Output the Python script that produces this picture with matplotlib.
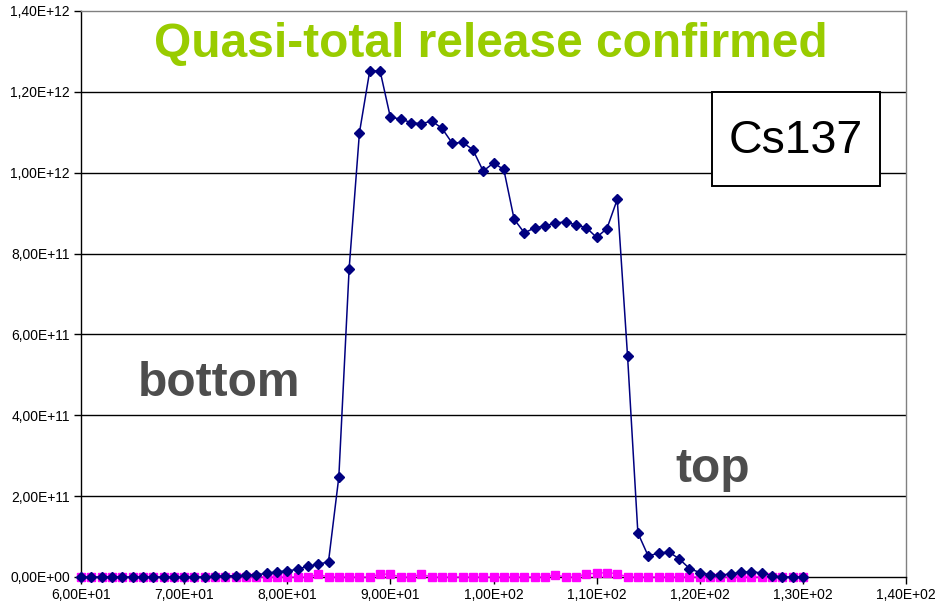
import matplotlib.pyplot as plt
from matplotlib.patches import Rectangle
from matplotlib.ticker import FuncFormatter

# ---------------- Data ----------------
x_vals = list(range(60, 131))

cs137_blue = [
    0, 0, 0, 0, 0, 0, 0, 0, 0, 0,                       # 60-69
    0, 0, 0, 1.5e9, 3e9, 3e9, 5e9, 5.5e9, 9e9, 1.3e10,  # 70-79
    1.5e10, 1.9e10, 2.7e10, 3.1e10, 3.8e10,             # 80-84
    2.47e11, 7.62e11, 1.099e12, 1.252e12, 1.252e12,     # 85-89
    1.137e12, 1.133e12, 1.124e12, 1.121e12, 1.128e12,   # 90-94
    1.110e12, 1.073e12, 1.075e12, 1.057e12, 1.004e12,   # 95-99
    1.024e12, 1.008e12, 8.85e11, 8.51e11, 8.64e11,      # 100-104
    8.68e11, 8.76e11, 8.78e11, 8.71e11, 8.64e11,        # 105-109
    8.40e11, 8.62e11, 9.34e11, 5.46e11, 1.09e11,        # 110-114
    5.2e10, 5.9e10, 6.2e10, 4.5e10, 2.1e10,             # 115-119
    1.1e10, 5e9, 4e9, 8e9, 1.15e10,                     # 120-124
    1.3e10, 1.0e10, 3e9, 0, 0, 0,                       # 125-130
]

cs137_pink = [
    0, 0, 0, 0, 0, 0, 0, 0, 0, 0,                       # 60-69
    0, 0, 0, 0, 0, 0, 0, 0, 0, 0,                       # 70-79
    0, 0, 0, 6.5e9, 0, 0, 0, 0, 0, 7e9,                 # 80-89
    7e9, 0, 0, 7e9, 0, 0, 0, 0, 0, 0,                   # 90-99
    0, 0, 0, 0, 0, 0, 5e9, 0, 0, 8e9,                   # 100-109
    9e9, 1.1e10, 8e9, 0, 0, 0, 0, 0, 0, 0,              # 110-119
    0, 0, 0, 0, 0, 0, 0, 0, 0, 0, 0,                    # 120-130
]

x_ticks = [60, 70, 80, 90, 100, 110, 120, 130, 140]
y_ticks = [0, 2e11, 4e11, 6e11, 8e11, 1e12, 1.2e12, 1.4e12]


def excel_sci(v, pos=None):
    s = "%.2E" % v
    return s.replace(".", ",")


# ---------------- Plotting ----------------
plt.rcParams['font.family'] = ['Liberation Sans', 'DejaVu Sans']

W, H = 936, 610
fig = plt.figure(figsize=(W / 100, H / 100), dpi=100)
ax = fig.add_axes([81 / W, 1 - 577 / H, (906 - 81) / W, (577 - 11) / H])

ax.plot(x_vals, cs137_pink, color='#FF00FF', marker='s', markersize=6,
        linewidth=1, zorder=3, clip_on=False)
ax.plot(x_vals, cs137_blue, color='#000080', marker='D', markersize=5.2,
        linewidth=1.1, zorder=4, clip_on=False)

ax.set_xlim(60, 140)
ax.set_ylim(0, 1.4e12)
ax.set_xticks(x_ticks)
ax.set_yticks(y_ticks)
ax.xaxis.set_major_formatter(FuncFormatter(excel_sci))
ax.yaxis.set_major_formatter(FuncFormatter(excel_sci))
ax.tick_params(labelsize=10, length=5, width=1, direction='out', pad=3)

for y in y_ticks[1:-1]:
    ax.axhline(y, color='black', linewidth=1, zorder=1)

for side in ['top', 'right']:
    ax.spines[side].set_color('#808080')
    ax.spines[side].set_linewidth(1)
for side in ['left', 'bottom']:
    ax.spines[side].set_color('black')
    ax.spines[side].set_linewidth(1)

# ---------------- Annotations ----------------
fig.text(491 / W, 1 - 45 / H, 'Quasi-total release confirmed',
         color='#99CC00', fontsize=34.5, fontweight='bold',
         ha='center', va='center')
fig.text(219 / W, 1 - 383 / H, 'bottom', color='#4D4D4D',
         fontsize=34.5, fontweight='bold', ha='center', va='center')
fig.text(713 / W, 1 - 469 / H, 'top', color='#4D4D4D',
         fontsize=34.5, fontweight='bold', ha='center', va='center')

# label box
fig.patches.append(Rectangle((712 / W, 1 - 186 / H), 168 / W, 94 / H,
                             transform=fig.transFigure, facecolor='white',
                             edgecolor='black', linewidth=1.4, zorder=5))
fig.text(796 / W, 1 - 141 / H, 'Cs137', color='black', fontsize=33.5,
         ha='center', va='center', zorder=6)

plt.savefig('out.png', dpi=100)
